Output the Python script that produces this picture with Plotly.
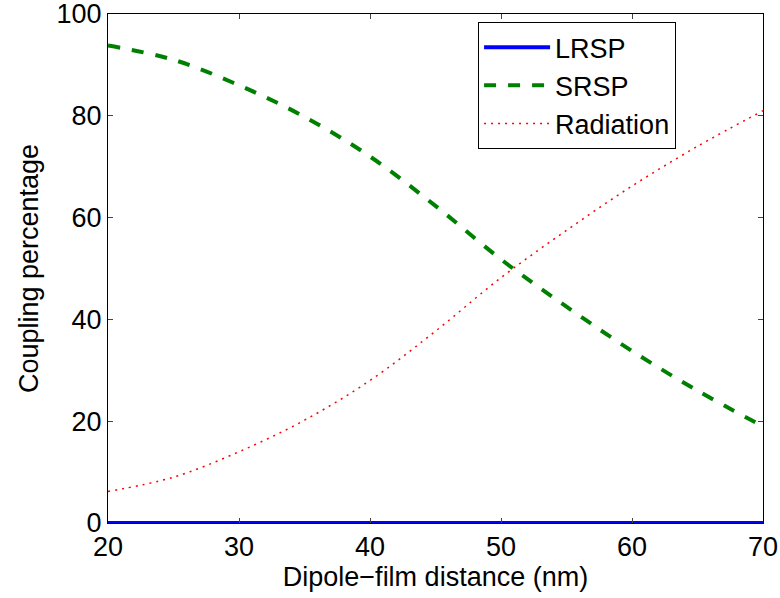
import plotly.graph_objects as go

distance = [20, 25, 30, 35, 40, 45, 50, 55, 60, 65, 70]
lrsp = [0, 0, 0, 0, 0, 0, 0, 0, 0, 0, 0]
srsp = [93.8, 91.0, 86.0, 79.8, 72.0, 62.3, 51.8, 42.5, 33.8, 26.0, 19.0]
radiation = [6.2, 9.0, 14.0, 20.2, 28.0, 37.7, 48.2, 57.5, 66.2, 74.0, 81.0]
x_ticks = [20, 30, 40, 50, 60, 70]
y_ticks = [0, 20, 40, 60, 80, 100]

fig = go.Figure()
fig.add_trace(go.Scatter(x=distance, y=lrsp, mode="lines", name="LRSP",
                         line=dict(color="#0000ff", width=4), line_shape="spline"))
fig.add_trace(go.Scatter(x=distance, y=srsp, mode="lines", name="SRSP",
                         line=dict(color="#008000", width=4, dash="dash"), line_shape="spline"))
fig.add_trace(go.Scatter(x=distance, y=radiation, mode="lines", name="Radiation",
                         line=dict(color="#ff0000", width=1.5, dash="2px,5px"), line_shape="spline"))

font_family = "Liberation Sans, Arial, Helvetica, sans-serif"
fs = 27
fig.update_layout(
    width=780, height=598,
    margin=dict(l=108, r=17, t=14, b=75),
    paper_bgcolor="white", plot_bgcolor="white",
    font=dict(family=font_family, size=fs, color="black"),
    showlegend=True,
    legend=dict(x=0.565, y=0.984, xanchor="left", yanchor="top",
                bgcolor="white", bordercolor="black", borderwidth=1,
                font=dict(size=fs), itemwidth=66, tracegroupgap=0),
    xaxis=dict(range=[20, 70], tickvals=x_ticks, ticks="inside", ticklen=5,
               showline=True, linecolor="black", linewidth=1, mirror="ticks",
               showgrid=False, zeroline=False, tickfont=dict(size=fs),
               automargin=False, ticklabeloverflow="allow",
               title=dict(text="Dipole−film distance (nm)", font=dict(size=fs), standoff=0)),
    yaxis=dict(range=[0, 100], tickvals=y_ticks, ticks="inside", ticklen=5,
               showline=True, linecolor="black", linewidth=1, mirror="ticks",
               showgrid=False, zeroline=False, tickfont=dict(size=fs),
               automargin=False, ticklabeloverflow="allow",
               title=dict(text="Coupling percentage", font=dict(size=fs), standoff=10)),
)

fig.write_html("out.html")
